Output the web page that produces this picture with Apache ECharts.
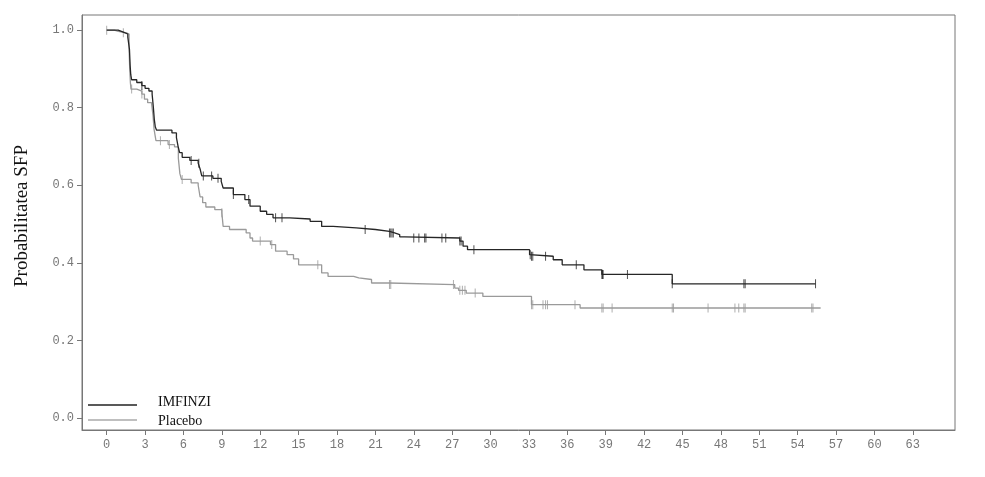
<!DOCTYPE html>
<html>
<head>
<meta charset="utf-8">
<script src="https://cdn.jsdelivr.net/npm/echarts@6/dist/echarts.min.js"></script>
<style>
  html, body { margin: 0; padding: 0; background: #fff; }
  #chart { width: 985px; height: 477px; }
</style>
</head>
<body>
<div id="chart"></div>
<script>
  // luni (x) si probabilitatea SFP (y)
  var imfinziTime = [0, 0.9, 1.3, 1.65, 1.78, 1.83, 1.88, 1.95, 2.35, 2.75, 3.0, 3.3, 3.55, 3.65, 3.72, 3.8, 3.9,
    5.1, 5.45, 5.58, 5.7, 5.9, 6.5, 7.15, 7.3, 7.43, 8.3, 8.95, 9.1, 9.9, 10.8, 11.2, 12.0, 12.5, 13.0, 14.3,
    15.9, 16.8, 17.7, 19.5, 21.0, 22.1, 22.5, 22.9, 23.3, 27.6, 27.85, 28.2, 33.05, 33.2, 34.9, 35.6, 37.3,
    38.7, 44.2, 55.4];
  var imfinziSurv = [1.0, 0.995, 0.99, 0.982, 0.95, 0.91, 0.885, 0.872, 0.865, 0.857, 0.85, 0.843, 0.835, 0.80, 0.77, 0.75, 0.742,
    0.735, 0.723, 0.70, 0.684, 0.672, 0.664, 0.657, 0.642, 0.624, 0.618, 0.61, 0.593, 0.576, 0.563, 0.546, 0.533, 0.525, 0.516, 0.513,
    0.507, 0.494, 0.49, 0.486, 0.481, 0.477, 0.473, 0.467, 0.464, 0.456, 0.443, 0.434, 0.421, 0.417, 0.408, 0.395, 0.382,
    0.37, 0.346, 0.346];
  var imfinziCens = [2.75, 6.6, 7.2, 7.55, 8.2, 8.7, 9.9, 11.1, 13.2, 13.7, 20.2, 22.1, 22.2, 22.3, 22.4, 24.0, 24.4,
    24.85, 24.95, 26.2, 26.5, 27.6, 27.7, 28.7, 33.1, 33.2, 33.3, 34.3, 36.7, 38.7, 38.75, 38.8, 40.7, 44.2, 49.8, 49.9, 55.4];

  var placeboTime = [0, 0.6, 0.9, 1.55, 1.75, 1.8, 1.85, 1.9, 2.35, 2.75, 2.95, 3.2, 3.5, 3.62, 3.7, 3.85,
    4.8, 5.3, 5.6, 5.72, 5.85, 6.6, 7.15, 7.3, 7.5, 7.75, 8.45, 9.0, 9.1, 9.6, 10.9, 11.2, 11.4, 12.8, 13.2,
    14.1, 14.6, 15.0, 16.8, 17.3, 19.3, 19.7, 20.7, 22.1, 27.2, 27.5, 28.1, 29.4, 33.2, 37.0, 55.8];
  var placeboSurv = [1.0, 0.997, 0.993, 0.99, 0.95, 0.90, 0.865, 0.848, 0.843, 0.835, 0.822, 0.813, 0.809, 0.78, 0.745, 0.715,
    0.705, 0.699, 0.67, 0.63, 0.615, 0.606, 0.60, 0.57, 0.555, 0.544, 0.537, 0.529, 0.494, 0.486, 0.477, 0.464, 0.456, 0.447, 0.43,
    0.421, 0.41, 0.395, 0.374, 0.365, 0.361, 0.357, 0.348, 0.344, 0.335, 0.329, 0.322, 0.3135, 0.292, 0.2835, 0.2835];
  var placeboCens = [0, 1.3, 1.95, 2.75, 4.2, 4.9, 5.9, 9.0, 12.0, 12.9, 16.5, 22.1, 22.2, 27.1, 27.6, 27.8, 28.0, 28.8,
    33.2, 33.3, 34.1, 34.3, 34.45, 36.6, 38.7, 38.8, 39.5, 44.2, 44.3, 47.0, 49.1, 49.4, 49.8, 49.9, 55.1, 55.2];

  var xTicks = [0, 3, 6, 9, 12, 15, 18, 21, 24, 27, 30, 33, 36, 39, 42, 45, 48, 51, 54, 57, 60, 63];
  var yTicks = [0, 0.2, 0.4, 0.6, 0.8, 1.0];

  function steps (time, surv) {
    var out = [];
    for (var i = 0; i < time.length; i++) {
      out.push([time[i], surv[i]]);
    }
    return out;
  }
  // valoarea curbei la momentul cenzurarii
  function censPoints (cens, time, surv) {
    var out = [];
    for (var j = 0; j < cens.length; j++) {
      var v = surv[0];
      for (var i = 0; i < time.length; i++) {
        if (time[i] <= cens[j]) v = surv[i];
      }
      out.push([cens[j], v]);
    }
    return out;
  }

  var monoFont = '"Liberation Mono", "DejaVu Sans Mono", monospace';
  var serifFont = '"Liberation Serif", "DejaVu Serif", serif';

  var myChart = echarts.init(document.getElementById('chart'));
  myChart.setOption({
    animation: false,
    grid: {
      left: 82,
      right: 30,
      top: 15,
      bottom: 47,
      show: true,
      borderColor: '#777',
      borderWidth: 1
    },
    xAxis: {
      type: 'value',
      min: -1.93,
      max: 66.3,
      axisLine: { onZero: false, lineStyle: { color: '#777' } },
      axisTick: { show: true, length: 5, customValues: xTicks, lineStyle: { color: '#777' } },
      axisLabel: {
        customValues: xTicks,
        margin: 9,
        color: '#777',
        fontFamily: monoFont,
        fontSize: 12
      },
      splitLine: { show: false }
    },
    yAxis: {
      type: 'value',
      min: -0.031,
      max: 1.039,
      axisLine: { show: true, onZero: false, lineStyle: { color: '#777' } },
      axisTick: { show: true, length: 5, customValues: yTicks, lineStyle: { color: '#777' } },
      axisLabel: {
        customValues: yTicks,
        margin: 8,
        color: '#777',
        fontFamily: monoFont,
        fontSize: 12,
        formatter: function (v) { return v.toFixed(1); }
      },
      splitLine: { show: false }
    },
    graphic: [
      {
        type: 'text',
        x: 22,
        y: 216,
        rotation: Math.PI / 2,
        style: {
          text: 'Probabilitatea SFP',
          fill: '#111',
          font: '19px ' + serifFont,
          align: 'center',
          verticalAlign: 'middle'
        }
      },
      { type: 'line', shape: { x1: 88, y1: 405, x2: 137, y2: 405 }, style: { stroke: '#222', lineWidth: 1.3 } },
      { type: 'line', shape: { x1: 88, y1: 420, x2: 137, y2: 420 }, style: { stroke: '#aaa', lineWidth: 1.3 } },
      { type: 'text', x: 158, y: 402, style: { text: 'IMFINZI', fill: '#111', font: '14px ' + serifFont, verticalAlign: 'middle' } },
      { type: 'text', x: 158, y: 421, style: { text: 'Placebo', fill: '#111', font: '14px ' + serifFont, verticalAlign: 'middle' } }
    ],
    series: [
      {
        name: 'Placebo',
        type: 'line',
        step: 'end',
        showSymbol: false,
        data: steps(placeboTime, placeboSurv),
        lineStyle: { color: '#9a9a9a', width: 1.3 },
        z: 2
      },
      {
        name: 'IMFINZI',
        type: 'line',
        step: 'end',
        showSymbol: false,
        data: steps(imfinziTime, imfinziSurv),
        lineStyle: { color: '#262626', width: 1.3 },
        z: 3
      },
      {
        name: 'Placebo cenzurat',
        type: 'scatter',
        symbol: 'rect',
        symbolSize: [1, 9],
        data: censPoints(placeboCens, placeboTime, placeboSurv),
        itemStyle: { color: '#9a9a9a' },
        z: 2
      },
      {
        name: 'IMFINZI cenzurat',
        type: 'scatter',
        symbol: 'rect',
        symbolSize: [1, 9],
        data: censPoints(imfinziCens, imfinziTime, imfinziSurv),
        itemStyle: { color: '#262626' },
        z: 3
      }
    ]
  });
</script>
</body>
</html>
